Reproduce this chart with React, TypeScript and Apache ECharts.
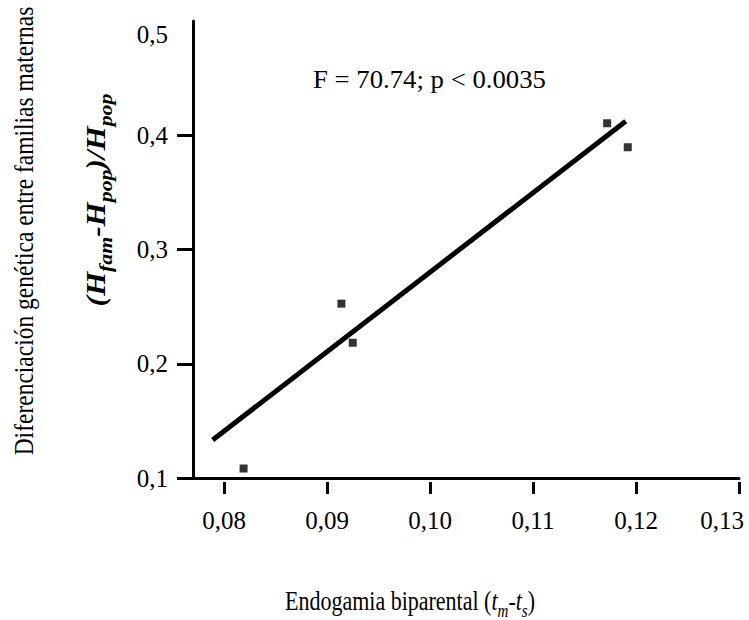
import React, { useEffect, useRef } from "react";
import * as echarts from "echarts";

const xValues = [0.0819, 0.0914, 0.0925, 0.1172, 0.1192];
const yValues = [0.1083, 0.2526, 0.2184, 0.4105, 0.3895];
const fitX = [0.0789, 0.119];
const fitY = [0.1333, 0.4123];
const xTicks = [0.08, 0.09, 0.1, 0.11, 0.12, 0.13];
const yTicks = [0.1, 0.2, 0.3, 0.4, 0.5];
const yTickMarks = [0.1, 0.2, 0.3, 0.4];
const statText = "F = 70.74; p < 0.0035";
const xName = "Endogamia biparental";
const yName1 = "Diferenciación genética entre familias maternas";

const FONT = "Liberation Serif, Times New Roman, serif";

const fmtX = (v: number) => v.toFixed(2).replace(".", ",");
const fmtY = (v: number) => v.toFixed(1).replace(".", ",");

export default function App() {
  const ref = useRef<HTMLDivElement>(null);
  useEffect(() => {
    if (!ref.current) return;
    const chart = echarts.init(ref.current, null, { renderer: "svg" });
    const xMin = 0.07699;
    const xMax = 0.13;
    const axisCommon = {
      type: "value" as const,
      min: xMin,
      max: xMax,
      splitLine: { show: false },
    };
    chart.setOption({
      animation: false,
      backgroundColor: "#ffffff",
      textStyle: { fontFamily: FONT },
      grid: { left: 193, top: 21, right: 10, bottom: 142, containLabel: false },
      xAxis: [
        {
          ...axisCommon,
          axisLine: { show: true, lineStyle: { color: "#000", width: 3 } },
          axisTick: { show: false },
          axisLabel: { show: false },
        },
        {
          ...axisCommon,
          position: "bottom",
          offset: 4,
          axisLine: { show: false },
          axisTick: {
            show: true,
            length: 12,
            lineStyle: { color: "#000", width: 3 },
            customValues: xTicks,
          },
          axisLabel: {
            show: true,
            customValues: xTicks,
            margin: 26,
            color: "#000",
            fontFamily: FONT,
            fontSize: 25,
            formatter: (v: number) =>
              Math.abs(v - 0.13) < 1e-9 ? "{r|" + fmtX(v) + "}" : fmtX(v),
            rich: {
              r: { fontFamily: FONT, fontSize: 25, color: "#000", padding: [0, 34, 0, 0] },
            },
          },
        },
      ],
      yAxis: {
        type: "value",
        min: 0.1,
        max: 0.5,
        splitLine: { show: false },
        axisLine: { show: true, lineStyle: { color: "#000", width: 3 } },
        axisTick: {
          show: true,
          length: 16,
          lineStyle: { color: "#000", width: 3 },
          customValues: yTickMarks,
        },
        axisLabel: {
          show: true,
          customValues: yTicks,
          margin: 25,
          color: "#000",
          fontFamily: FONT,
          fontSize: 25,
          formatter: (v: number) =>
            Math.abs(v - 0.5) < 1e-9 ? "{t|" + fmtY(v) + "}" : fmtY(v),
          rich: {
            t: { fontFamily: FONT, fontSize: 25, color: "#000", padding: [26, 0, 0, 0] },
          },
        },
      },
      series: [
        {
          type: "line",
          xAxisIndex: 0,
          data: fitX.map((x, i) => [x, fitY[i]]),
          showSymbol: false,
          symbol: "none",
          lineStyle: { color: "#000", width: 5 },
          z: 2,
        },
        {
          type: "scatter",
          xAxisIndex: 0,
          data: xValues.map((x, i) => [x, yValues[i]]),
          symbol: "rect",
          symbolSize: 8,
          itemStyle: { color: "#000" },
          z: 3,
        },
      ],
      graphic: [
        {
          type: "text",
          x: 313,
          y: 80,
          scaleX: 1.07,
          style: {
            text: statText,
            fontFamily: FONT,
            fontSize: 25,
            fill: "#000",
            align: "left",
            verticalAlign: "middle",
          },
        },
        {
          type: "text",
          x: 410,
          y: 603,
          scaleY: 1.2,
          style: {
            text: "{n|" + xName + " (}{i|t}{s|m}{n|-}{i|t}{s|s}{n|)}",
            align: "center",
            verticalAlign: "middle",
            rich: {
              n: { fontFamily: FONT, fontSize: 22, fill: "#000", lineHeight: 26, verticalAlign: "top" },
              i: { fontFamily: FONT, fontSize: 22, fontStyle: "italic", fill: "#000", lineHeight: 26, verticalAlign: "top" },
              s: { fontFamily: FONT, fontSize: 15, fontStyle: "italic", fill: "#000", lineHeight: 15, padding: [12, 0, 0, 0], verticalAlign: "top" },
            },
          },
        },
        {
          type: "text",
          x: 23,
          y: 231,
          rotation: Math.PI / 2,
          scaleY: 1.15,
          style: {
            text: yName1,
            fontFamily: FONT,
            fontSize: 23.5,
            fill: "#000",
            align: "center",
            verticalAlign: "middle",
          },
        },
        {
          type: "text",
          x: 97,
          y: 200,
          rotation: Math.PI / 2,
          scaleX: 1.15,
          style: {
            text: "{b|(H}{s|fam}{b|-H}{s|pop}{b|)/H}{s|pop}",
            align: "center",
            verticalAlign: "middle",
            rich: {
              b: { fontFamily: FONT, fontSize: 27, fontStyle: "italic", fontWeight: "bold", fill: "#000", lineHeight: 30, verticalAlign: "top" },
              s: { fontFamily: FONT, fontSize: 19, fontStyle: "italic", fontWeight: "bold", fill: "#000", lineHeight: 19, padding: [14, 0, 0, 0], verticalAlign: "top" },
            },
          },
        },
      ],
    });
    return () => chart.dispose();
  }, []);
  return (
    <div
      ref={ref}
      style={{ position: "absolute", left: 0, top: 0, width: 749, height: 620 }}
    />
  );
}
